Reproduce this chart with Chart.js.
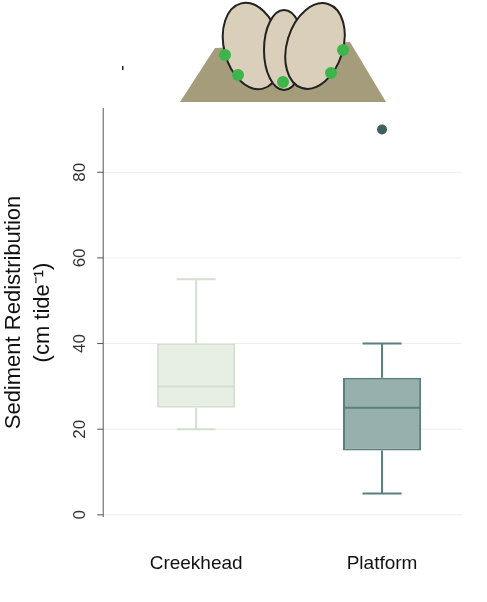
<!DOCTYPE html><html><head><meta charset="utf-8">
<script src="https://cdn.jsdelivr.net/npm/chart.js@4"></script>
<style>html,body{margin:0;padding:0;background:#fff}#w{width:487px;height:602px}</style></head><body>
<div id="w"><canvas id="c"></canvas></div>
<script>
const categories=["Creekhead","Platform"];
const q1=[25,15], med=[30,25], q3=[40,32], whiskLo=[20,5], whiskHi=[55,40];
const outliers=[[],[90]];
const yTicks=[0,20,40,60,80];
const fills=["#e7efe4","#97b0ad"], strokes=["#d3e0cd","#5b7f7b"];

const boxPlugin={id:'box',
 beforeDatasetsDraw(ch){
  const c=ch.ctx,y=ch.scales.y,ca=ch.chartArea;
  c.save();c.strokeStyle="#eeeeee";c.lineWidth=1;
  yTicks.forEach(t=>{const py=y.getPixelForValue(t);c.beginPath();c.moveTo(ca.left,py);c.lineTo(462,py);c.stroke();});
  c.restore();
 },
 afterDatasetsDraw(ch){
  const c=ch.ctx,x=ch.scales.x,y=ch.scales.y,ca=ch.chartArea;
  c.save();
  c.strokeStyle="#555";c.lineWidth=1;c.beginPath();c.moveTo(ca.left,ca.top);c.lineTo(ca.left,ca.bottom);c.stroke();
  yTicks.forEach(t=>{const py=y.getPixelForValue(t);
    c.beginPath();c.moveTo(ca.left-6,py);c.lineTo(ca.left,py);c.stroke();
    c.save();c.translate(80,py);c.rotate(-Math.PI/2);c.fillStyle="#333";c.font="17px 'Liberation Sans'";c.textAlign="center";c.textBaseline="middle";c.fillText(String(t),0,0);c.restore();});
  const bw=78;
  categories.forEach((k,i)=>{
    const cx=x.getPixelForValue(i);
    c.strokeStyle=strokes[i];c.lineWidth=2;
    const pLo=y.getPixelForValue(whiskLo[i]),pHi=y.getPixelForValue(whiskHi[i]);
    const p1=y.getPixelForValue(q1[i]),p3=y.getPixelForValue(q3[i]),pm=y.getPixelForValue(med[i]);
    c.beginPath();c.moveTo(cx,p1);c.lineTo(cx,pLo);c.moveTo(cx,p3);c.lineTo(cx,pHi);
    c.moveTo(cx-bw/4,pLo);c.lineTo(cx+bw/4,pLo);c.moveTo(cx-bw/4,pHi);c.lineTo(cx+bw/4,pHi);
    c.moveTo(cx-bw/2,pm);c.lineTo(cx+bw/2,pm);c.stroke();
    outliers[i].forEach(o=>{c.fillStyle="#3f605c";c.beginPath();c.arc(cx,y.getPixelForValue(o),5,0,7);c.fill();});
    c.fillStyle="#111";c.font="19px 'Liberation Sans'";c.textAlign="center";c.textBaseline="middle";
    c.fillText(k,cx,ca.bottom+47);
  });
  // illustration
  c.fillStyle="#a59c7c";c.beginPath();c.moveTo(180,102);c.lineTo(215,48);c.lineTo(350,42);c.lineTo(386,102);c.closePath();c.fill();
  c.fillStyle="#d9cfba";c.strokeStyle="#222";c.lineWidth=2;
  [[252,46,28,44,-0.25],[284,50,20,40,0],[315,46,28,44,0.3]].forEach(([ex,ey,rx,ry,r])=>{c.beginPath();c.ellipse(ex,ey,rx,ry,r,0,7);c.fill();c.stroke();});
  c.fillStyle="#3cb54a";
  [[225,55],[238,75],[283,82],[331,73],[343,50]].forEach(([a,b])=>{c.beginPath();c.arc(a,b,6,0,7);c.fill();});
  c.fillStyle="#222";c.fillRect(122,66,1.5,4);
  c.restore();
}};
new Chart(document.getElementById('c'),{type:'bar',
 data:{labels:categories,datasets:[{data:categories.map((_,i)=>[q1[i],q3[i]]),backgroundColor:fills,borderColor:strokes,borderWidth:2,borderSkipped:false,barPercentage:0.42,categoryPercentage:1}]},
 options:{responsive:true,maintainAspectRatio:false,animation:false,
  layout:{padding:{top:108,right:12,left:0,bottom:77}},
  plugins:{legend:{display:false},tooltip:{enabled:false}},
  scales:{y:{min:-0.5,max:95,grid:{display:false},border:{display:false},ticks:{display:false},
    title:{display:true,text:["Sediment Redistribution","(cm tide⁻¹)"],color:"#111",font:{family:"'Liberation Sans'",size:22,lineHeight:1.3},padding:{top:0,bottom:38}}},
   x:{grid:{display:false},border:{display:false},ticks:{display:false}}}},
 plugins:[boxPlugin]});
</script></body></html>
